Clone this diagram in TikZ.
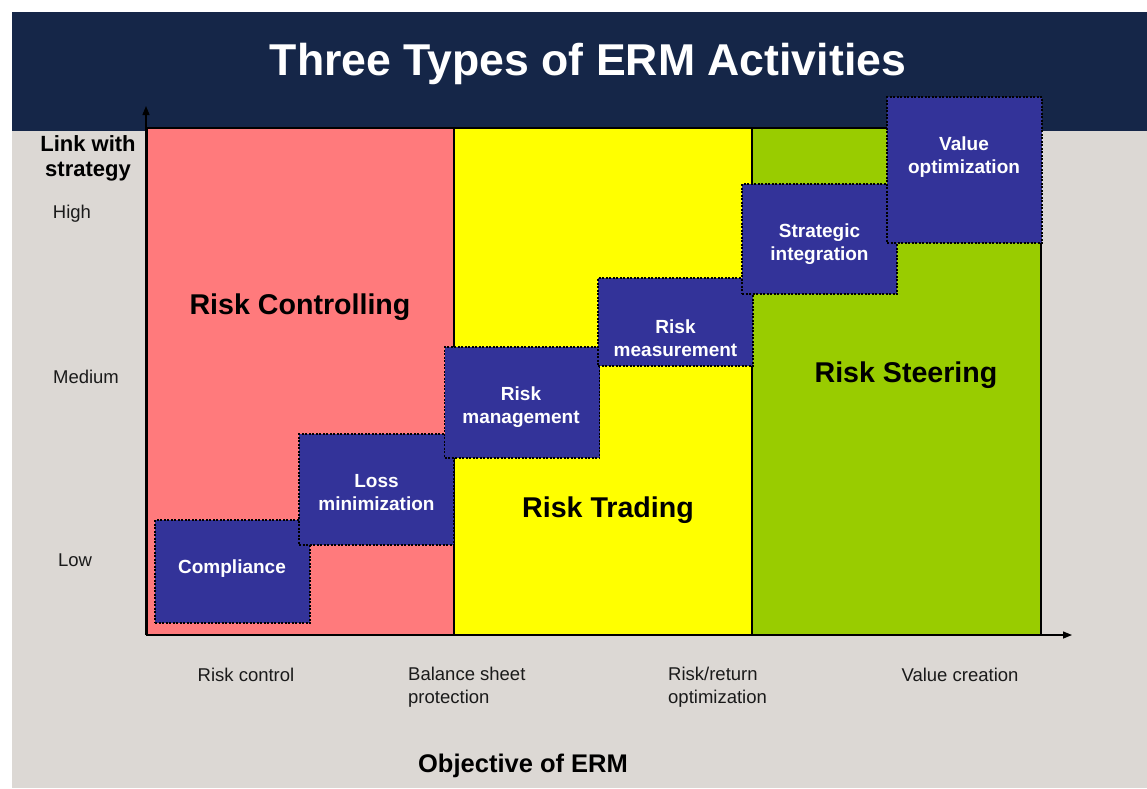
\documentclass[tikz,border=0pt]{standalone}
\usepackage{fontspec}
\setmainfont{Liberation Sans}
\usetikzlibrary{arrows.meta}
\definecolor{navy}{HTML}{152648}
\definecolor{paper}{HTML}{DCD8D4}
\definecolor{ctrlred}{HTML}{FF7A7C}
\definecolor{tradeyel}{HTML}{FFFF00}
\definecolor{steergrn}{HTML}{99CC00}
\definecolor{actblue}{HTML}{333399}
\definecolor{inkgray}{HTML}{1A1A1A}
\tikzset{
  zone/.style={draw=black, line width=1.3pt},
  actbox/.style={draw=black, fill=actblue, line width=1.6pt,
    dash pattern=on 2pt off 1.5pt, minimum width=155, minimum height=#1,
    inner sep=0pt},
  acttext/.style={text=white, font=\bfseries\fontsize{19}{23}\selectfont,
    align=center, inner sep=0pt},
  axislbl/.style={text=inkgray, font=\fontsize{18.5}{23}\selectfont, inner sep=0pt},
  zonelbl/.style={text=black, font=\bfseries\fontsize{28.6}{32}\selectfont, inner sep=0pt},
  axis/.style={line width=1.3pt, -{Triangle[length=9pt,width=7pt]}}
}
\begin{document}
\begin{tikzpicture}[x=1pt,y=-1pt]
\useasboundingbox (0,0) rectangle (1147,788);
\fill[white] (0,0) rectangle (1147,788);
% page background and title band
\fill[paper] (12,12) rectangle (1147,788);
\fill[navy] (12,12) rectangle (1147,131);
\node[text=white, font=\bfseries\fontsize{44.6}{50}\selectfont, inner sep=0pt] (title) at (588,64) {Three Types of ERM Activities};

% three activity zones
\draw[zone, fill=ctrlred] (147,128) rectangle (454,635);
\draw[zone, fill=tradeyel] (454,128) rectangle (752,635);
\draw[zone, fill=steergrn] (752,128) rectangle (1041,635);

% axes
\coordinate (orig) at (146,635);
\coordinate (ytip) at (146,106);
\coordinate (xtip) at (1072,635);
\draw[axis] (orig) -- (ytip);
\draw[axis] (orig) -- (xtip);

% zone labels
\node[zonelbl] (zc) at (300,307) {Risk Controlling};
\node[zonelbl] (zt) at (608,510) {Risk Trading};
\node[zonelbl] (zs) at (906,375) {Risk Steering};

% activity staircase
\node[actbox=103] (comp) at (232.5,571.5) {};
\node[acttext] (compt) at (232,569) {Compliance};
\node[actbox=111] (loss) at (376.5,489.5) {};
\node[acttext] (losst) at (376.5,493) {Loss\\minimization};
\node[actbox=111] (mgmt) at (522,402.5) {};
\node[acttext] (mgmtt) at (521,407.5) {Risk\\management};
\node[actbox=88] (meas) at (675.5,322) {};
\node[acttext] (meast) at (675.5,338.5) {Risk\\measurement};
\node[actbox=110] (strat) at (819.5,239) {};
\node[acttext] (stratt) at (819.5,244.5) {Strategic\\integration};
\node[actbox=146] (value) at (964.5,170) {};
\node[acttext] (valuet) at (964,157.5) {Value\\optimization};

% vertical axis labels
\node[text=black, font=\bfseries\fontsize{22}{25}\selectfont, align=center, inner sep=0pt] (ylab) at (88,158) {Link with\\strategy};
\node[axislbl] (yhigh) at (72,214) {High};
\node[axislbl] (ymed) at (86,377) {Medium};
\node[axislbl] (ylow) at (75,560) {Low};

% horizontal axis labels
\node[axislbl] (xrc) at (246,675) {Risk control};
\node[axislbl, anchor=west, align=left] (xbs) at (408,687) {Balance sheet\\protection};
\node[axislbl, anchor=west, align=left] (xrr) at (668,687) {Risk/return\\optimization};
\node[axislbl] (xvc) at (960,675) {Value creation};
\node[text=black, font=\bfseries\fontsize{25.5}{30}\selectfont, inner sep=0pt] (xlab) at (523,766) {Objective of ERM};
\end{tikzpicture}
\end{document}
